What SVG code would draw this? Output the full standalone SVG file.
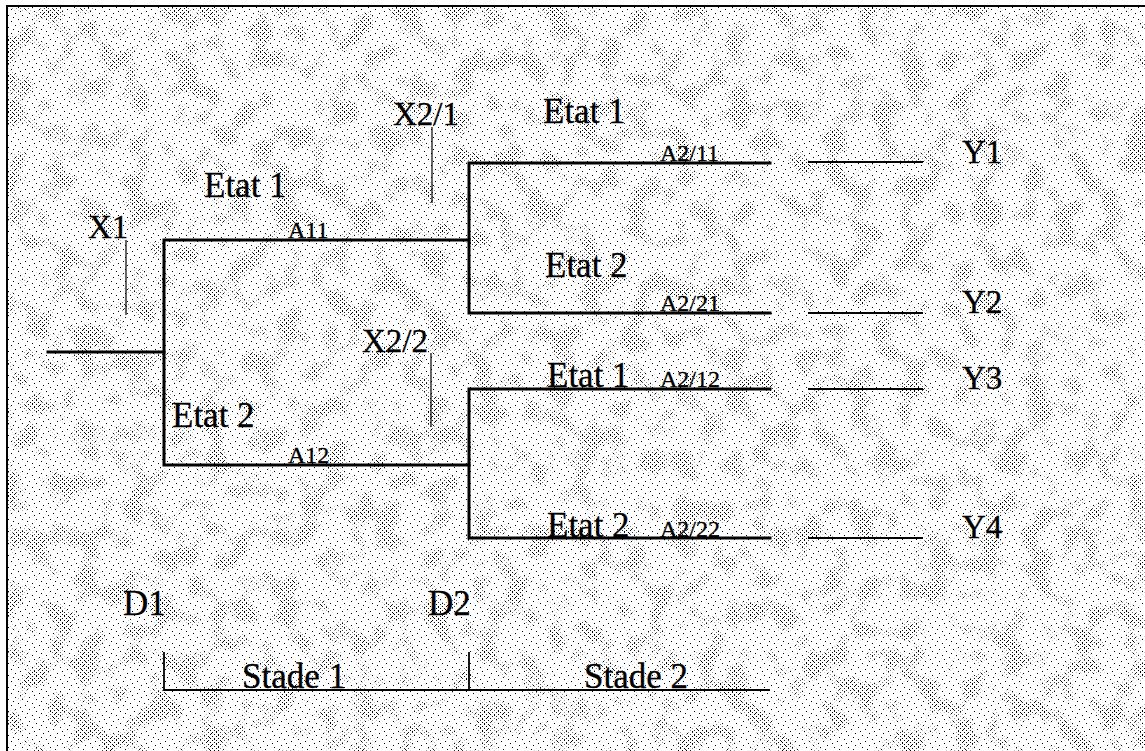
<svg xmlns="http://www.w3.org/2000/svg" width="1145" height="751" viewBox="0 0 1145 751">
  <defs>
    <style>
      .big { font-size: 35px; }
      .mid { font-size: 33px; }
      .small { font-size: 24px; }
      .thick { stroke: #000; stroke-width: 3; fill: none; stroke-linecap: square; }
      .thin { stroke: #000; stroke-width: 1.2; fill: none; }
      .med { stroke: #000; stroke-width: 1.8; fill: none; }
    </style>
    <pattern id="dense" width="4" height="4" patternUnits="userSpaceOnUse">
      <rect x="0" y="0" width="1" height="1" fill="#000"/>
      <rect x="2" y="2" width="1" height="1" fill="#000"/>
    </pattern>
    <pattern id="sparse" width="14" height="12" patternUnits="userSpaceOnUse">
      <rect x="1" y="1" width="1" height="1" fill="#000"/>
      <rect x="8" y="3" width="1" height="1" fill="#000"/>
      <rect x="4" y="7" width="1" height="1" fill="#000"/>
      <rect x="11" y="9" width="1" height="1" fill="#000"/>
      <rect x="13" y="5" width="1" height="1" fill="#000"/>
      <rect x="6" y="11" width="1" height="1" fill="#000"/>
    </pattern>
    <filter id="noise" x="0" y="0" width="100%" height="100%" color-interpolation-filters="sRGB">
      <feTurbulence type="fractalNoise" baseFrequency="0.04" numOctaves="2" seed="7"/>
      <feColorMatrix type="matrix" values="6 0 0 0 -3.0  6 0 0 0 -3.0  6 0 0 0 -3.0  0 0 0 0 1"/>
    </filter>
    <mask id="blots" maskUnits="userSpaceOnUse" x="0" y="0" width="1145" height="751">
      <rect x="0" y="0" width="1145" height="751" fill="#fff" filter="url(#noise)"/>
    </mask>
  </defs>

  <g id="background">
    <rect x="0" y="0" width="1145" height="751" fill="#fff"/>
    <rect x="8" y="7" width="1137" height="744" fill="url(#sparse)"/>
    <rect x="8" y="7" width="1137" height="744" fill="url(#dense)" mask="url(#blots)"/>
    <rect x="7" y="6" width="1200" height="800" fill="none" stroke="#000" stroke-width="2"/>
  </g>

  <g id="connectors">
    <line class="thick" x1="48" y1="352" x2="164" y2="352"/>
    <polyline class="thick" points="469,240 164,240 164,465 469,465"/>
    <polyline class="thick" points="770,163 469,163 469,313 770,313"/>
    <polyline class="thick" points="770,389 469,389 469,538 770,538"/>
    <line class="thin" x1="126" y1="240" x2="126" y2="315"/>
    <line class="thin" x1="432" y1="127" x2="432" y2="203"/>
    <line class="thin" x1="431" y1="353" x2="431" y2="427"/>
    <line class="med" x1="808" y1="162" x2="923" y2="162"/>
    <line class="med" x1="808" y1="313" x2="923" y2="313"/>
    <line class="med" x1="808" y1="389" x2="923" y2="389"/>
    <line class="med" x1="808" y1="538" x2="923" y2="538"/>
    <polyline class="med" points="164,652 164,690 770,690"/>
    <line class="med" x1="469" y1="652" x2="469" y2="690"/>
  </g>

  <g id="labels" font-family="Liberation Serif, Times New Roman, DejaVu Serif, serif" fill="#000" stroke="#000" stroke-width="0.3">
    <g id="node-x1"><text class="mid" x="88" y="238">X1</text></g>
    <g id="node-etat1-s1"><text class="big" x="204" y="197">Etat 1</text></g>
    <g id="node-a11"><text class="small" x="288" y="238">A11</text></g>
    <g id="node-etat2-s1"><text class="big" x="172" y="427">Etat 2</text></g>
    <g id="node-a12"><text class="small" x="288" y="463">A12</text></g>

    <g id="node-x21"><text class="mid" x="393" y="125">X2/1</text></g>
    <g id="node-x22"><text class="mid" x="362" y="352">X2/2</text></g>

    <g id="node-etat1-s2a"><text class="big" x="543" y="123">Etat 1</text></g>
    <g id="node-a211"><text class="small" x="660" y="161">A2/11</text></g>
    <g id="node-etat2-s2a"><text class="big" x="545" y="277">Etat 2</text></g>
    <g id="node-a221"><text class="small" x="660" y="311">A2/21</text></g>

    <g id="node-etat1-s2b"><text class="big" x="547" y="387">Etat 1</text></g>
    <g id="node-a212"><text class="small" x="660" y="387">A2/12</text></g>
    <g id="node-etat2-s2b"><text class="big" x="547" y="537">Etat 2</text></g>
    <g id="node-a222"><text class="small" x="660" y="537">A2/22</text></g>

    <g id="node-y1"><text class="mid" x="962" y="163">Y1</text></g>
    <g id="node-y2"><text class="mid" x="962" y="313">Y2</text></g>
    <g id="node-y3"><text class="mid" x="962" y="389">Y3</text></g>
    <g id="node-y4"><text class="mid" x="962" y="538">Y4</text></g>

    <g id="node-d1"><text class="big" x="123" y="615">D1</text></g>
    <g id="node-d2"><text class="big" x="428" y="615">D2</text></g>
    <g id="node-stade1"><text class="big" x="242" y="688">Stade 1</text></g>
    <g id="node-stade2"><text class="big" x="584" y="688">Stade 2</text></g>
  </g>
</svg>
